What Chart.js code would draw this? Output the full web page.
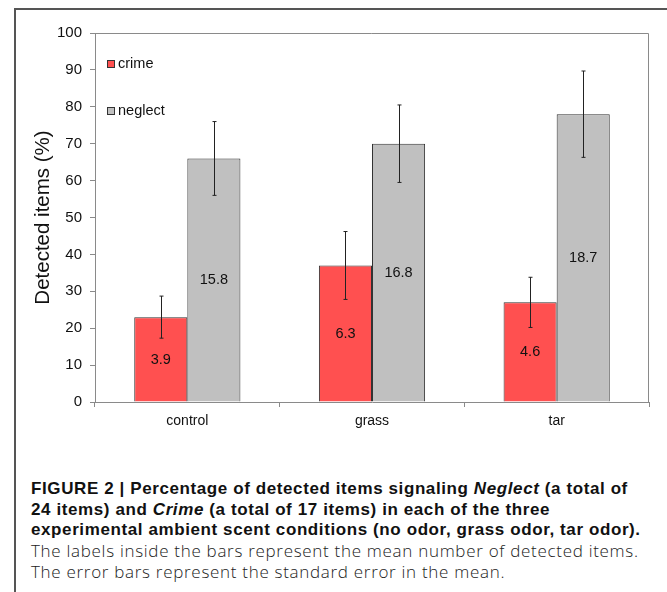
<!DOCTYPE html>
<html>
<head>
<meta charset="utf-8">
<script src="https://cdn.jsdelivr.net/npm/chart.js@4.4.1/dist/chart.umd.min.js"></script>
<style>
  html, body { margin: 0; padding: 0; background: #fff; width: 667px; height: 592px; overflow: hidden; }
  #frame { position: absolute; left: 14px; top: 8px; width: 720px; height: 700px; border: 2px solid #555; box-sizing: border-box; z-index: 5; pointer-events: none; }
  #wrap { position: absolute; left: 0; top: 0; width: 667px; height: 440px; z-index: 1; }
  #caption { position: absolute; left: 31px; top: 479px; width: 636px; line-height: 20.6px; color: #111; white-space: nowrap; z-index: 1; }
  #caption .b { font-family: "Liberation Sans", Arial, sans-serif; font-weight: bold; font-size: 17px; letter-spacing: 0.6px; }
  #caption .l { font-family: "Open Sans", "Roboto", sans-serif; font-weight: 300; font-size: 17px; letter-spacing: 0.7px; color: #222; }
</style>
</head>
<body>
<div id="frame"></div>
<div id="wrap"><canvas id="c"></canvas></div>
<div id="caption">
  <span class="b">FIGURE 2 | Percentage of detected items signaling <i>Neglect</i> (a total of<br>24 items) and <i>Crime</i> (a total of 17 items) in each of the three<br>experimental ambient scent conditions (no odor, grass odor, tar odor).</span><br>
  <span class="l">The labels inside the bars represent the mean number of detected items.<br>The error bars represent the standard error in the mean.</span>
</div>
<script>
const categories = ["control", "grass", "tar"];
const seriesNames = ["crime", "neglect"];
const crimePct = [23, 37, 27];
const neglectPct = [66, 70, 78];
const crimeErr = [5.7, 9.2, 6.8];
const neglectErr = [10, 10.5, 11.7];
const crimeMeanItems = ["3.9", "6.3", "4.6"];
const neglectMeanItems = ["15.8", "16.8", "18.7"];
const yTicks = [0, 10, 20, 30, 40, 50, 60, 70, 80, 90, 100];

const FONT = "'Liberation Sans', Arial, sans-serif";

const errors = [crimeErr, neglectErr];
const innerLabels = [crimeMeanItems, neglectMeanItems];

const extrasPlugin = {
  id: 'extras',
  afterDatasetsDraw(chart) {
    const ctx = chart.ctx;
    const y = chart.scales.y;
    const area = chart.chartArea;
    ctx.save();
    ctx.strokeStyle = '#8a8a8a';
    ctx.lineWidth = 1;
    ctx.beginPath();
    ctx.moveTo(area.left, area.top + 0.5);
    ctx.lineTo(area.right - 0.5, area.top + 0.5);
    ctx.lineTo(area.right - 0.5, area.bottom);
    ctx.stroke();
    chart.data.datasets.forEach((ds, di) => {
      const meta = chart.getDatasetMeta(di);
      meta.data.forEach((bar, i) => {
        const v = ds.data[i];
        const e = errors[di][i];
        const x = Math.round(bar.x) + 0.5;
        const yTop = y.getPixelForValue(v + e);
        const yBot = y.getPixelForValue(v - e);
        ctx.strokeStyle = '#222';
        ctx.lineWidth = 1;
        ctx.beginPath();
        ctx.moveTo(x, yTop); ctx.lineTo(x, yBot);
        ctx.moveTo(x - 2, yTop); ctx.lineTo(x + 2, yTop);
        ctx.moveTo(x - 2, yBot); ctx.lineTo(x + 2, yBot);
        ctx.stroke();
        ctx.fillStyle = '#111';
        ctx.font = '14.5px ' + FONT;
        ctx.textAlign = 'center';
        ctx.textBaseline = 'middle';
        ctx.fillText(innerLabels[di][i], bar.x, y.getPixelForValue(v / 2));
      });
    });
    const legendY = [64, 111];
    chart.data.datasets.forEach((ds, di) => {
      const ly = legendY[di];
      ctx.fillStyle = ds.backgroundColor;
      ctx.fillRect(107, ly - 4, 8, 8);
      ctx.strokeStyle = '#333';
      ctx.lineWidth = 1;
      ctx.strokeRect(107.5, ly - 3.5, 7, 7);
      ctx.fillStyle = '#111';
      ctx.font = '14.5px ' + FONT;
      ctx.textAlign = 'left';
      ctx.textBaseline = 'middle';
      ctx.fillText(ds.label, 118, ly);
    });
    ctx.restore();
  }
};

new Chart(document.getElementById('c'), {
  type: 'bar',
  data: {
    labels: categories,
    datasets: [
      { label: seriesNames[0], data: crimePct, backgroundColor: '#ff5050', borderColor: '#333', borderWidth: 1 },
      { label: seriesNames[1], data: neglectPct, backgroundColor: '#c0c0c0', borderColor: '#333', borderWidth: 1 }
    ]
  },
  options: {
    responsive: true,
    maintainAspectRatio: false,
    animation: false,
    events: [],
    layout: { padding: { left: 31, top: 33, right: 18, bottom: 0 } },
    datasets: { bar: { categoryPercentage: 0.575, barPercentage: 1.0 } },
    plugins: { legend: { display: false }, tooltip: { enabled: false } },
    scales: {
      x: {
        grid: { drawOnChartArea: false, drawTicks: true, tickLength: 5, color: '#8a8a8a', offset: true },
        border: { color: '#8a8a8a', width: 1 },
        ticks: { color: '#111', font: { family: FONT, size: 14 }, padding: 6 },
        afterFit(scale) { scale.height = 38; }
      },
      y: {
        min: 0, max: 100,
        afterBuildTicks(scale) { scale.ticks = yTicks.map(v => ({ value: v })); },
        grid: { drawOnChartArea: false, drawTicks: true, tickLength: 5, color: '#8a8a8a' },
        border: { color: '#8a8a8a', width: 1 },
        ticks: { color: '#111', font: { family: FONT, size: 15 }, padding: 8 },
        title: { display: true, text: 'Detected items (%)', color: '#111', font: { family: FONT, size: 20.5 }, padding: { top: 0, bottom: 0 } },
        afterFit(scale) { scale.width = 64; }
      }
    }
  },
  plugins: [extrasPlugin]
});
</script>
</body>
</html>
